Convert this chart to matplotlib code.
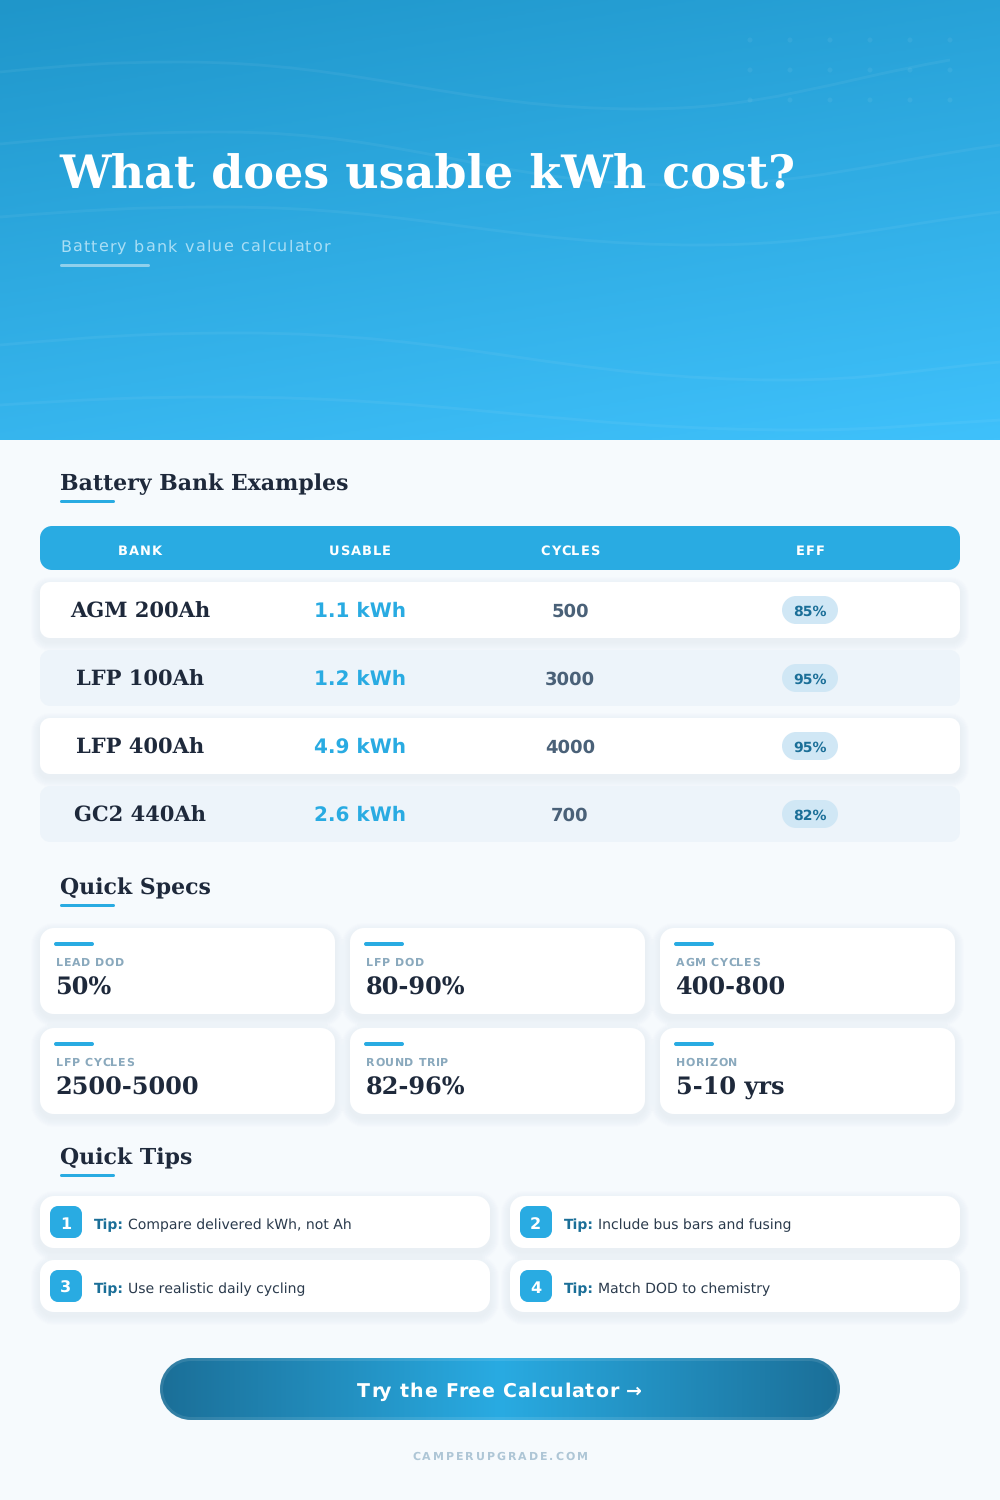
# -*- coding: utf-8 -*-
import matplotlib
matplotlib.use("Agg")
import matplotlib.pyplot as plt
import numpy as np
from matplotlib.colors import LinearSegmentedColormap
from matplotlib.font_manager import FontProperties
from matplotlib.patches import Circle, PathPatch
from matplotlib.path import Path
from matplotlib.textpath import TextToPath

plt.rcParams["text.hinting"] = "no_hinting"
plt.rcParams["text.hinting_factor"] = 1

# -------- Data --------
banks = ["AGM 200Ah", "LFP 100Ah", "LFP 400Ah", "GC2 440Ah"]
usable = ["1.1 kWh", "1.2 kWh", "4.9 kWh", "2.6 kWh"]
cycles = ["500", "3000", "4000", "700"]
eff = ["85%", "95%", "95%", "82%"]
table_headers = ["BANK", "USABLE", "CYCLES", "EFF"]
spec_labels = ["LEAD DOD", "LFP DOD", "AGM CYCLES", "LFP CYCLES", "ROUND TRIP", "HORIZON"]
spec_values = ["50%", "80-90%", "400-800", "2500-5000", "82-96%", "5-10 yrs"]
tips = ["Compare delivered kWh, not Ah", "Include bus bars and fusing",
        "Use realistic daily cycling", "Match DOD to chemistry"]

# -------- Colours --------
BG = "#f6fafd"
BLUE = "#29abe2"
DARK_BLUE = "#1b6f98"
INK = "#1e293b"

SANS = "DejaVu Sans"
SERIF = "DejaVu Serif"
t2p = TextToPath()

# -------- Canvas (1 data unit = 1 pixel) --------
fig = plt.figure(figsize=(10, 15), dpi=100, facecolor=BG)
ax = fig.add_axes([0, 0, 1, 1])
ax.set_axis_off()


def txt(x, y, s, px, color="white", family=SANS, weight="normal", ha="left", spacing=0, zorder=5):
    """Text with size in pixels, y is the baseline, spacing is letter spacing in pixels."""
    size = px * 0.72
    if spacing == 0:
        ax.text(x, y, s, fontsize=size, color=color, family=family, weight=weight,
                ha=ha, va="baseline", zorder=zorder)
        return
    prop = FontProperties(family=family, weight=weight, size=size)
    def width(part):
        return t2p.get_text_width_height_descent(part, prop, False)[0] * 100 / 72
    # pen position of a character = width of what stands before it, measured with a sentinel
    bar = width("|")
    total = width(s) + spacing * (len(s) - 1)
    start = x - total / 2 if ha == "center" else x
    for i, ch in enumerate(s):
        if ch == " ":
            continue
        cx = start + width(s[:i] + "|") - bar + spacing * i
        ax.text(cx, y, ch, fontsize=size, color=color, family=family, weight=weight,
                ha="left", va="baseline", zorder=zorder)


def rrect(x0, y0, x1, y1, r):
    k = r * 0.5523
    verts = [(x0 + r, y0), (x1 - r, y0),
             (x1 - r + k, y0), (x1, y0 + r - k), (x1, y0 + r), (x1, y1 - r),
             (x1, y1 - r + k), (x1 - r + k, y1), (x1 - r, y1), (x0 + r, y1),
             (x0 + r - k, y1), (x0, y1 - r + k), (x0, y1 - r), (x0, y0 + r),
             (x0, y0 + r - k), (x0 + r - k, y0), (x0 + r, y0), (x0 + r, y0)]
    codes = [Path.MOVETO, Path.LINETO,
             Path.CURVE4, Path.CURVE4, Path.CURVE4, Path.LINETO,
             Path.CURVE4, Path.CURVE4, Path.CURVE4, Path.LINETO,
             Path.CURVE4, Path.CURVE4, Path.CURVE4, Path.LINETO,
             Path.CURVE4, Path.CURVE4, Path.CURVE4, Path.CLOSEPOLY]
    return Path(verts, codes)


def box(x0, y0, x1, y1, r, color, **kw):
    p = PathPatch(rrect(x0, y0, x1, y1, r), facecolor=color, edgecolor="none", linewidth=0, **kw)
    ax.add_patch(p)
    return p


def card(x0, y0, x1, y1, r, color="white", shadow=True):
    if shadow:
        for grow in range(9, 0, -1):
            box(x0 - grow, y0 - grow + 4, x1 + grow, y1 + grow + 4, r + grow, "#e3ebf1", alpha=0.08)
    return box(x0, y0, x1, y1, r, color)


def heading(y, s):
    txt(60, y, s, 22, color=INK, family=SERIF, weight="bold")
    box(60, y + 10, 115, y + 13, 1.5, BLUE)


# -------- Header gradient --------
gx, gy = np.meshgrid(np.linspace(0, 1, 400), np.linspace(0, 1, 300))
grad = gx * 0.27 + gy * 0.73
hero_cmap = LinearSegmentedColormap.from_list("hero", ["#1f96ca", "#3fc1fb"])
ax.imshow(grad, extent=(0, 1000, 440, 0), cmap=hero_cmap, aspect="auto", zorder=0, interpolation="bilinear")

# waves: start, crest, trough, end
waves = [
    [(0, 72), (180, 62), (640, 109), (950, 60)],
    [(0, 144), (223, 132), (680, 185), (1000, 145)],
    [(0, 217), (223, 207), (700, 245), (1000, 212)],
    [(0, 345), (242, 333), (784, 380), (1000, 362)],
    [(0, 405), (220, 397), (800, 430), (1000, 420)],
]
for (p0, p1, p2, p3) in waves:
    d0 = p1[0] - p0[0]
    d1 = p2[0] - p1[0]
    d2 = p3[0] - p2[0]
    verts = [p0, (p0[0] + d0 * 0.4, p0[1] + (p1[1] - p0[1]) * 0.7), (p1[0] - d0 * 0.4, p1[1]), p1,
             (p1[0] + d1 * 0.4, p1[1]), (p2[0] - d1 * 0.4, p2[1]), p2,
             (p2[0] + d2 * 0.4, p2[1]), (p3[0] - d2 * 0.4, p3[1] + (p2[1] - p3[1]) * 0.45), p3]
    codes = [Path.MOVETO] + [Path.CURVE4] * 9
    ax.add_patch(PathPatch(Path(verts, codes), facecolor="none", edgecolor="white", linewidth=2,
                           alpha=0.05, zorder=1))

# dot grid
for dy in [40, 70, 100]:
    for dx in [750, 790, 830, 870, 910, 950]:
        ax.add_patch(Circle((dx, dy), 2.5, facecolor="white", edgecolor="none", alpha=0.06, zorder=1))

txt(59.5, 188, "What does usable kWh cost?", 46, family=SERIF, weight="bold")
txt(60, 252, "Battery bank value calculator", 16, color="#a9def5", spacing=1.2)
box(60, 264, 150, 267, 1.5, "#8fd0ec")

# -------- Table --------
heading(490, "Battery Bank Examples")
col_x = [140, 360, 570, 810]

box(40, 526, 960, 570, 12, BLUE)
for x, h in zip(col_x, table_headers):
    txt(x, 555, h, 13, weight="bold", ha="center", spacing=1)

for i in range(len(banks)):
    top = 582 + 68 * i
    if i % 2 == 0:
        card(40, top, 960, top + 56, 10)
    else:
        card(40, top, 960, top + 56, 10, color="#edf4fa", shadow=False)
    base = top + 35
    txt(col_x[0], base + 1, banks[i], 21, color=INK, family=SERIF, weight="bold", ha="center")
    txt(col_x[1], base, usable[i], 20, color=BLUE, weight="bold", ha="center")
    txt(col_x[2], base, cycles[i], 18.2, color="#4a6178", weight="bold", ha="center")
    box(782, top + 14, 838, top + 42, 14, "#d0e7f5")
    txt(col_x[3], base - 1, eff[i], 14, color=DARK_BLUE, weight="bold", ha="center")

# -------- Quick specs --------
heading(894, "Quick Specs")
for i in range(len(spec_labels)):
    x0 = 40 + 310 * (i % 3)
    y0 = 928 + 100 * (i // 3)
    card(x0, y0, x0 + 295, y0 + 86, 14)
    box(x0 + 14, y0 + 14, x0 + 54, y0 + 18, 2, BLUE)
    txt(x0 + 16, y0 + 38, spec_labels[i], 11, color="#8aa9bd", weight="bold", spacing=0.6)
    txt(x0 + 15.5, y0 + 67, spec_values[i], 24, color=INK, family=SERIF, weight="bold")

# -------- Quick tips --------
heading(1164, "Quick Tips")
for i in range(len(tips)):
    x0 = 40 + 470 * (i % 2)
    y0 = 1196 + 64 * (i // 2)
    card(x0, y0, x0 + 450, y0 + 52, 14)
    box(x0 + 10, y0 + 10, x0 + 42, y0 + 42, 8, BLUE)
    txt(x0 + 25.5, y0 + 33, str(i + 1), 16, weight="bold", ha="center")
    txt(x0 + 54, y0 + 33, "Tip:", 14, color=DARK_BLUE, weight="bold")
    txt(x0 + 88.5, y0 + 33, tips[i], 14, color="#2a3a4c")

# -------- Button --------
btn = box(160, 1358, 840, 1420, 31, "none")
bx = np.linspace(0, 1, 400)[None, :]
btn_cmap = LinearSegmentedColormap.from_list("btn", [DARK_BLUE, BLUE, DARK_BLUE])
im = ax.imshow(bx, extent=(160, 840, 1420, 1358), cmap=btn_cmap, aspect="auto", zorder=2, interpolation="bilinear")
im.set_clip_path(btn)
ax.add_patch(PathPatch(rrect(161.5, 1359.5, 838.5, 1418.5, 29.5), facecolor="none", edgecolor="white",
                       alpha=0.1, linewidth=2.2, zorder=3))
txt(500, 1397, "Try the Free Calculator \u2192", 19.5, weight="bold", ha="center", spacing=0.5)

txt(500, 1460, "CAMPERUPGRADE.COM", 11, color="#aec6d6", weight="bold", ha="center", spacing=2)

ax.set_xlim(0, 1000)
ax.set_ylim(1500, 0)

fig.savefig("out.png", dpi=100, facecolor=BG)
